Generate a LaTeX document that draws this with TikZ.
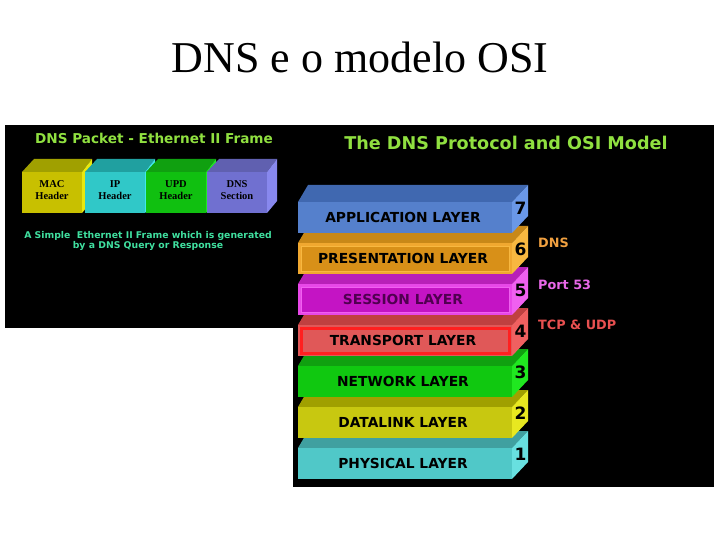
\documentclass[tikz,border=0pt]{standalone}
\usepackage{fontspec}
\setmainfont{Liberation Serif}
\newfontfamily\vsans{DejaVu Sans}
\definecolor{ttlgreen}{HTML}{90E040}
\definecolor{subgreen}{HTML}{40E0A0}
% left boxes
\definecolor{macF}{HTML}{C8C000}\definecolor{macT}{HTML}{A0A000}\definecolor{macS}{HTML}{E8E810}
\definecolor{ipF}{HTML}{30C8C8}\definecolor{ipT}{HTML}{20A0A0}\definecolor{ipS}{HTML}{40E8E8}
\definecolor{udpF}{HTML}{10C010}\definecolor{udpT}{HTML}{10A010}\definecolor{udpS}{HTML}{20E820}
\definecolor{dnsF}{HTML}{7070D0}\definecolor{dnsT}{HTML}{6060B0}\definecolor{dnsS}{HTML}{8888EE}
% layers
\definecolor{appF}{HTML}{5580CC}\definecolor{appT}{HTML}{4068B0}\definecolor{appS}{HTML}{6A98E8}
\definecolor{preF}{HTML}{F0A830}\definecolor{preT}{HTML}{C88818}\definecolor{preS}{HTML}{F8B840}\definecolor{preI}{HTML}{D89018}
\definecolor{sesF}{HTML}{E848E8}\definecolor{sesT}{HTML}{B820B8}\definecolor{sesS}{HTML}{F060F0}\definecolor{sesI}{HTML}{C414C4}
\definecolor{traF}{HTML}{E05858}\definecolor{traT}{HTML}{C04040}\definecolor{traS}{HTML}{F06060}\definecolor{traB}{HTML}{FF2020}
\definecolor{netF}{HTML}{10C810}\definecolor{netT}{HTML}{10A010}\definecolor{netS}{HTML}{20E820}
\definecolor{datF}{HTML}{C8C810}\definecolor{datT}{HTML}{A0A000}\definecolor{datS}{HTML}{E8E820}
\definecolor{phyF}{HTML}{50C8C8}\definecolor{phyT}{HTML}{40A0A0}\definecolor{phyS}{HTML}{68E0E0}
\definecolor{sesTxt}{HTML}{500050}
\definecolor{lblDNS}{HTML}{F0A040}\definecolor{lblPort}{HTML}{E868E8}\definecolor{lblTCP}{HTML}{E85050}
\tikzset{
  boxtext/.style={font=\bfseries\fontsize{10.5}{12.5}\selectfont, align=center, inner sep=0pt},
  layertext/.style={font=\vsans\bfseries\fontsize{13.8}{15}\selectfont, inner sep=0pt},
  numtext/.style={font=\vsans\bfseries\fontsize{17}{18}\selectfont, inner sep=0pt, text=black},
  sidelabel/.style={font=\vsans\bfseries\fontsize{12.8}{14}\selectfont, anchor=west, inner sep=0pt},
  noinner/.style={},
  preinner/.style={fill=preI, draw=preS, line width=0.8pt},
  sesinner/.style={fill=sesI, draw=sesS, line width=0.8pt},
  trainner/.style={draw=traB, line width=3pt},
}
\newcommand\osilayer[9]{%
  \fill[#3] (298,#1) -- (308,#1-17) -- (528,#1-17) -- (512,#1) -- cycle;
  \fill[#4] (512,#1) -- (528,#1-17) -- (528,#1+14) -- (512,#1+31) -- cycle;
  \fill[#2] (298,#1) rectangle (512,#1+31);
  \path[#9] (301,#1+3) rectangle (509,#1+28);
  \node[layertext, text=#8] (#5) at (403,#1+15.5) {#6};
  \node[numtext] (#5num) at (520.5,#1+6) {#7};
}
\newcommand\hdrbox[7]{%
  \fill[#3] (#1,172) -- (#1+12,159) -- (#1+70,159) -- (#1+60,172) -- cycle;
  \fill[#4] (#1+60,172) -- (#1+70,159) -- (#1+70,201) -- (#1+60,213) -- cycle;
  \fill[#2] (#1,172) rectangle (#1+60,213);
  \node[boxtext, text=#7] (#5) at (#1+30,190) {#6};
}
\begin{document}
\begin{tikzpicture}[x=1pt,y=-1pt]
\useasboundingbox (0,0) rectangle (720,540);
\fill[white] (0,0) rectangle (720,540);
\node[font=\fontsize{44}{48}\selectfont, anchor=base, inner sep=0pt] (title) at (360,73) {DNS e o modelo OSI};
% panels
\fill[black] (5,125) rectangle (293,328);
\fill[black] (293,125) rectangle (714,487);
% left panel
\node[font=\vsans\bfseries\fontsize{13.6}{15}\selectfont, text=ttlgreen, inner sep=0pt] (lefttitle) at (154,138) {DNS Packet - Ethernet II Frame};
\hdrbox{22}{macF}{macT}{macS}{mac}{MAC\\Header}{black}
\hdrbox{85}{ipF}{ipT}{ipS}{ip}{IP\\Header}{black}
\hdrbox{146}{udpF}{udpT}{udpS}{udp}{UPD\\Header}{black}
\hdrbox{207}{dnsF}{dnsT}{dnsS}{dnssec}{DNS\\Section}{black}
\node[font=\vsans\bfseries\fontsize{9.3}{10.5}\selectfont, text=subgreen, align=center, inner sep=0pt] (subtitle) at (148,241) {A Simple\ \ Ethernet II Frame which is generated\\by a DNS Query or Response};
% right panel
\node[font=\vsans\bfseries\fontsize{17.6}{19}\selectfont, text=ttlgreen, inner sep=0pt] (righttitle) at (506,143) {The DNS Protocol and OSI Model};
\osilayer{448}{phyF}{phyT}{phyS}{phy}{PHYSICAL LAYER}{1}{black}{noinner}
\osilayer{407}{datF}{datT}{datS}{dat}{DATALINK LAYER}{2}{black}{noinner}
\osilayer{366}{netF}{netT}{netS}{net}{NETWORK LAYER}{3}{black}{noinner}
\osilayer{325}{traF}{traT}{traS}{tra}{TRANSPORT LAYER}{4}{black}{trainner}
\osilayer{284}{sesF}{sesT}{sesS}{ses}{SESSION LAYER}{5}{sesTxt}{sesinner}
\osilayer{243}{preF}{preT}{preS}{pre}{PRESENTATION LAYER}{6}{black}{preinner}
\osilayer{202}{appF}{appT}{appS}{app}{APPLICATION LAYER}{7}{black}{noinner}
\node[sidelabel, text=lblDNS] (lbldns) at (538,243) {DNS};
\node[sidelabel, text=lblPort] (lblport) at (538,285) {Port 53};
\node[sidelabel, text=lblTCP] (lbltcp) at (538,325) {TCP \& UDP};
\end{tikzpicture}
\end{document}
